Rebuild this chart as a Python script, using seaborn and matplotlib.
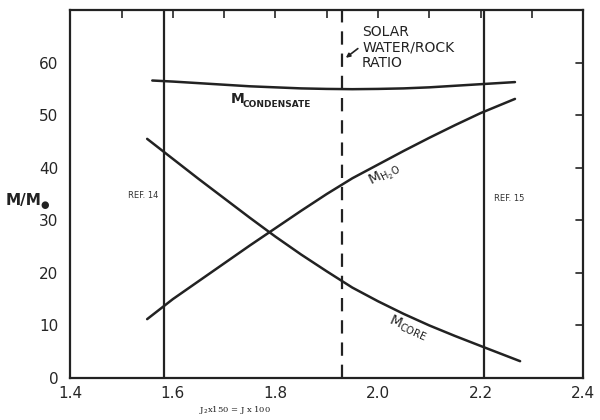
import numpy as np
import pandas as pd
import matplotlib
matplotlib.use("Agg")
import matplotlib.pyplot as plt
import seaborn as sns

# values
x_cond = [1.56, 1.60, 1.65, 1.70, 1.75, 1.80, 1.85, 1.90, 1.95, 2.00, 2.05, 2.10, 2.15, 2.20, 2.267]
m_cond = [56.6, 56.4, 56.1, 55.8, 55.5, 55.3, 55.1, 55.0, 54.95, 55.0, 55.1, 55.3, 55.6, 55.9, 56.3]

x_h2o = [1.55, 1.60, 1.65, 1.70, 1.75, 1.80, 1.85, 1.90, 1.95, 2.00, 2.05, 2.10, 2.15, 2.20, 2.267]
m_h2o = [11.2, 15.0, 18.4, 21.8, 25.2, 28.5, 31.8, 35.0, 38.0, 40.6, 43.2, 45.7, 48.1, 50.4, 53.1]

x_core = [1.55, 1.60, 1.65, 1.70, 1.75, 1.80, 1.85, 1.90, 1.95, 2.00, 2.05, 2.10, 2.15, 2.20, 2.277]
m_core = [45.5, 41.7, 37.9, 34.2, 30.5, 26.9, 23.5, 20.3, 17.2, 14.6, 12.2, 10.0, 8.0, 6.1, 3.2]

ref_lines = [1.582, 2.206]
ref_labels = ["REF. 14", "REF. 15"]
solar_ratio = 1.929

df = pd.concat([
    pd.DataFrame({"x": x_cond, "m": m_cond, "curve": "cond"}),
    pd.DataFrame({"x": x_h2o, "m": m_h2o, "curve": "h2o"}),
    pd.DataFrame({"x": x_core, "m": m_core, "curve": "core"}),
])

sns.set_style("white")
plt.rcParams["font.family"] = ["DejaVu Sans"]

fig = plt.figure(figsize=(6, 4.2), dpi=100)
ax = fig.add_axes([0.117, 0.1, 0.855, 0.876])

sns.lineplot(data=df, x="x", y="m", units="curve", estimator=None,
             color="#222222", linewidth=1.8, sort=True, ax=ax, legend=False)

for xr in ref_lines:
    ax.axvline(xr, color="#222222", linewidth=1.6)
ax.axvline(solar_ratio, color="#222222", linewidth=1.6, dashes=(6, 4))

ax.set_xlim(1.4, 2.4)
ax.set_ylim(0, 70)
ax.set_xticks(np.arange(1.4, 2.41, 0.2))
ax.set_xticklabels(["1.4", "1.6", "1.8", "2.0", "2.2", "2.4"])
ax.set_xticks(np.arange(1.5, 2.4, 0.2), minor=True)
ax.set_yticks(range(0, 61, 10))
ax.tick_params(axis="x", which="both", direction="in", top=True, length=6,
               width=1.2, labelsize=11, pad=6)
ax.tick_params(axis="y", direction="out", right=False, length=5, width=1.2,
               labelsize=11)
for yv in range(10, 61, 10):
    ax.plot([2.385, 2.4], [yv, yv], color="#222222", linewidth=1.2)
for s in ax.spines.values():
    s.set_linewidth(1.6)
    s.set_color("#222222")
ax.set_xlabel("")
ax.set_ylabel("")

# curve labels
ax.text(1.713, 52.4, "M", fontsize=10, fontweight="bold", color="#222222")
ax.text(1.735, 51.6, "CONDENSATE", fontsize=6.5, fontweight="bold", color="#222222")
ax.text(2.013, 38.5, r"M$_{\mathrm{H_2O}}$", fontsize=10, rotation=27,
        ha="center", va="center", color="#222222")
ax.text(2.058, 9.5, r"M$_{\mathrm{CORE}}$", fontsize=10, rotation=-24,
        ha="center", va="center", color="#222222")

ax.text(1.542, 34.7, ref_labels[0], fontsize=6, ha="center", va="center",
        color="#333333")
ax.text(2.256, 34.1, ref_labels[1], fontsize=6, ha="center", va="center",
        color="#333333")

ax.text(1.969, 67.2, "SOLAR\nWATER/ROCK\nRATIO", fontsize=10, ha="left",
        va="top", linespacing=1.15, color="#222222")
ax.annotate("", xy=(1.933, 60.6), xytext=(1.965, 63.0),
            arrowprops=dict(arrowstyle="-|>", color="#222222", lw=1.2,
                            mutation_scale=6))

fig.text(0.01, 1 - 200 / 420, "M/M", fontsize=11,
         fontweight="bold", va="center", color="#222222")
fig.text(0.068, 1 - 205 / 420, "\u25cf", fontsize=7,
         va="center", color="#222222")
fig.text(235 / 600, 1 - 410 / 420, r"J$_2$x150 = J x 100", fontsize=6,
         family="serif", ha="center", va="center", color="#222222")

fig.savefig("out.png", dpi=100)
